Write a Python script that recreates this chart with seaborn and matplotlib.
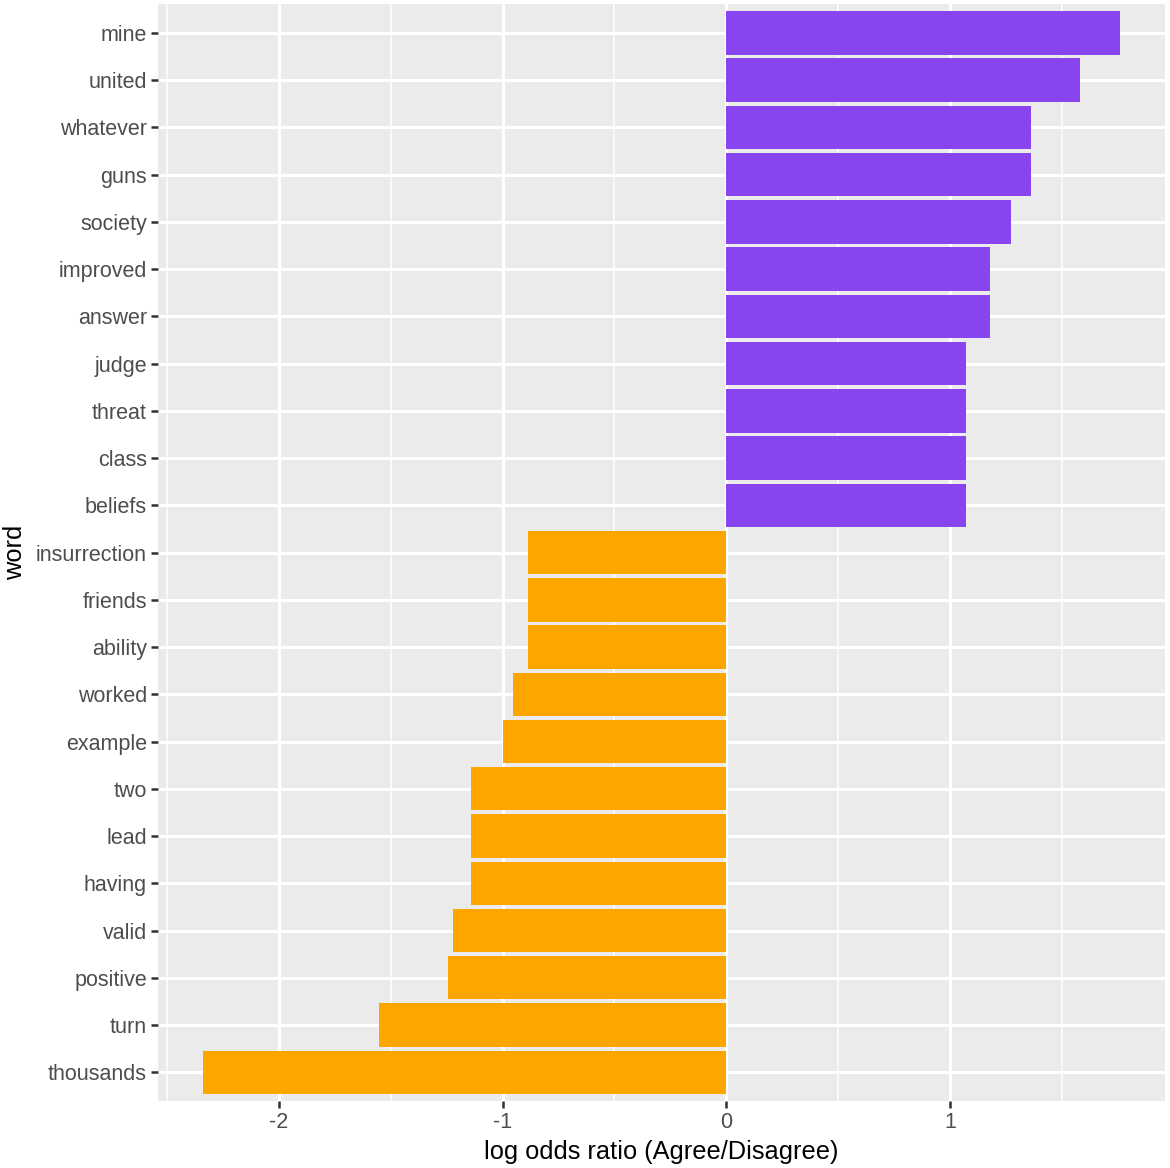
import numpy as np
import pandas as pd
import matplotlib
matplotlib.use("Agg")
import matplotlib.pyplot as plt
import seaborn as sns
from matplotlib.ticker import MultipleLocator

# words and log odds ratios (top to bottom)
words = ['mine', 'united', 'whatever', 'guns', 'society', 'improved', 'answer',
         'judge', 'threat', 'class', 'beliefs', 'insurrection', 'friends',
         'ability', 'worked', 'example', 'two', 'lead', 'having', 'valid',
         'positive', 'turn', 'thousands']
log_ratio = [1.76, 1.58, 1.36, 1.36, 1.27, 1.18, 1.18,
             1.07, 1.07, 1.07, 1.07, -0.885, -0.885,
             -0.885, -0.955, -1.0, -1.14, -1.14, -1.14, -1.22,
             -1.245, -1.55, -2.34]

df = pd.DataFrame({'word': words, 'log_ratio': log_ratio})
df['side'] = np.where(df['log_ratio'] > 0, 'Agree', 'Disagree')

sns.set_style("darkgrid")
plt.rcParams['font.family'] = ['Liberation Sans', 'DejaVu Sans']

fig = plt.figure(figsize=(11.7, 11.68), dpi=100)
ax = fig.add_axes([0.135, 0.0577, 0.8607, 0.9385])

sns.barplot(data=df, x='log_ratio', y='word', hue='side', orient='h',
            palette={'Agree': '#8844ee', 'Disagree': '#ffa500'},
            saturation=1, dodge=False, width=0.92, linewidth=0,
            legend=False, ax=ax)

ax.set_facecolor('#ebebeb')
ax.set_xlim(-2.54, 1.96)
ax.set_ylim(len(words) - 0.4, -0.6)
ax.xaxis.set_major_locator(MultipleLocator(1))
ax.xaxis.set_minor_locator(MultipleLocator(0.5))
ax.grid(which='major', color='white', linewidth=2.2)
ax.grid(which='minor', axis='x', color='white', linewidth=1.1)
ax.set_axisbelow(True)
for s in ax.spines.values():
    s.set_visible(False)

ax.tick_params(axis='both', which='major', bottom=True, left=True,
               length=5, width=1.8, color='#333333', labelcolor='#4d4d4d',
               labelsize=15.5, pad=3)
ax.tick_params(axis='x', which='minor', length=0)
ax.set_xticks([-2, -1, 0, 1])
ax.set_xticklabels(['-2', '-1', '0', '1'])

ax.set_xlabel('log odds ratio (Agree/Disagree)', fontsize=18.3, color='black', labelpad=5)
ax.set_ylabel('word', fontsize=18.3, color='black', labelpad=6)

fig.savefig('out.png', dpi=100)
